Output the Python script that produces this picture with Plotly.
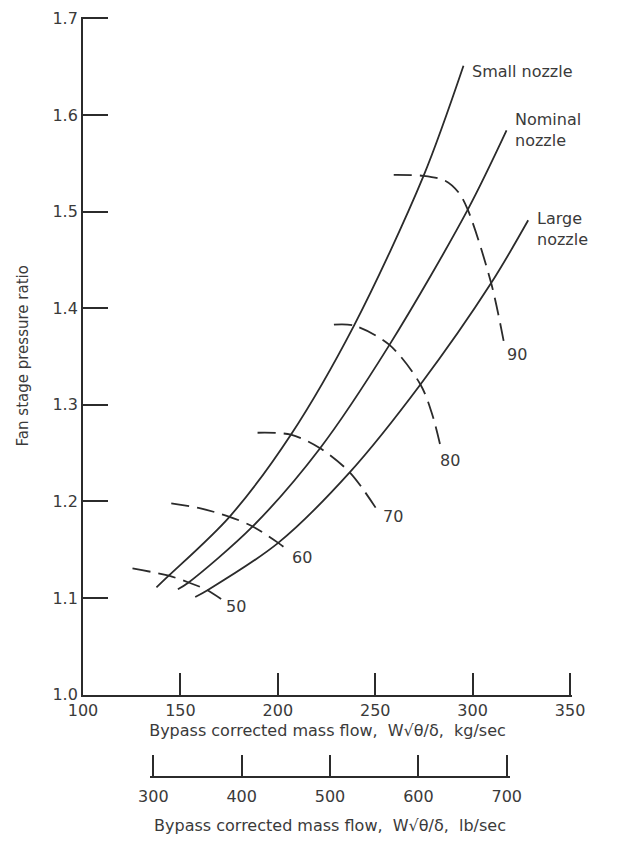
import plotly.graph_objects as go

# ---- data ----
small_x = [137.7, 144.0, 175.2, 206.7, 239.1, 274.8, 295.3]
small_y = [1.111, 1.123, 1.184, 1.269, 1.382, 1.537, 1.651]

nominal_x = [148.7, 154.2, 187.1, 221.7, 257.3, 297.5, 317.4]
nominal_y = [1.109, 1.116, 1.174, 1.255, 1.362, 1.502, 1.584]

large_x = [157.6, 163.9, 200.2, 236.9, 273.2, 309.5, 328.5]
large_y = [1.101, 1.108, 1.157, 1.230, 1.321, 1.426, 1.491]

speed50_x = [125.4, 144.0, 154.2, 163.9, 170.9]
speed50_y = [1.1305, 1.123, 1.116, 1.108, 1.0988]

speed60_x = [145.3, 159.8, 175.2, 187.1, 200.2, 205.5]
speed60_y = [1.198, 1.193, 1.184, 1.174, 1.157, 1.149]

speed70_x = [189.6, 206.7, 221.7, 236.9, 251.0]
speed70_y = [1.271, 1.269, 1.255, 1.230, 1.191]

speed80_x = [228.8, 239.1, 257.3, 273.2, 279.1, 283.4]
speed80_y = [1.383, 1.382, 1.362, 1.321, 1.291, 1.258]

speed90_x = [259.5, 274.8, 285.9, 292.7, 297.5, 309.5, 316.5]
speed90_y = [1.538, 1.537, 1.532, 1.520, 1.502, 1.426, 1.360]

speed_labels = ["50", "60", "70", "80", "90"]
kg_ticks = [100, 150, 200, 250, 300, 350]
lb_ticks = [300, 400, 500, 600, 700]
y_ticks = [1.0, 1.1, 1.2, 1.3, 1.4, 1.5, 1.6, 1.7]
KG_PER_LB = 0.45359237

# ---- styling ----
FONT = "DejaVu Sans"
INK = "#2b2b2b"
TXT = "#3a3a3a"
W = 632
H = 843
ml, mr, mt, mb = 83, 60, 17, 66
plot_h = H - mt - mb
y_dom0 = (777 - 694.5) / plot_h

KG_LO, KG_HI = 100, 351
Y_LO, Y_HI = 1.0, 1.7015
LB_LO, LB_HI = 296.5, 703.5


def kg_frac(v):
    return (v - KG_LO) / (KG_HI - KG_LO)


fig = go.Figure()

nozzle_line = dict(color=INK, width=1.8, shape="spline", smoothing=0.9)
dashed = dict(color=INK, width=1.8, dash="18px,8px", shape="spline", smoothing=0.9)

for xs, ys in [(small_x, small_y), (nominal_x, nominal_y), (large_x, large_y)]:
    fig.add_trace(go.Scatter(x=xs, y=ys, mode="lines", line=nozzle_line,
                             showlegend=False, hoverinfo="skip", cliponaxis=False))

for xs, ys in [(speed50_x, speed50_y), (speed60_x, speed60_y), (speed70_x, speed70_y),
               (speed80_x, speed80_y), (speed90_x, speed90_y)]:
    fig.add_trace(go.Scatter(x=xs, y=ys, mode="lines", line=dashed,
                             showlegend=False, hoverinfo="skip", cliponaxis=False))

# invisible trace to instantiate the lb/sec axis
fig.add_trace(go.Scatter(x=[lb_ticks[0]], y=[1.0], xaxis="x2", yaxis="y",
                         mode="markers", marker=dict(opacity=0),
                         showlegend=False, hoverinfo="skip"))

# speed labels
label_pos = [(178.6, 1.0915), (212.5, 1.142), (259.0, 1.184), (288.5, 1.242), (322.6, 1.352)]
for txt, (lx, ly) in zip(speed_labels, label_pos):
    fig.add_annotation(x=lx, y=ly, text=txt, showarrow=False,
                       font=dict(family=FONT, size=16, color=TXT))

# nozzle labels
fig.add_annotation(x=298.7, y=1.645, text="Small nozzle", showarrow=False, xanchor="left",
                   font=dict(family=FONT, size=16, color=TXT))
fig.add_annotation(x=320.9, y=1.584, text="Nominal<br>nozzle", showarrow=False, xanchor="left",
                   align="left", font=dict(family=FONT, size=16, color=TXT))
fig.add_annotation(x=332.0, y=1.482, text="Large<br>nozzle", showarrow=False, xanchor="left",
                   align="left", font=dict(family=FONT, size=16, color=TXT))
fig.add_annotation(x=352.4, y=1.371,
                   text="Corrected<br>fan speed,<br>N/√θ,<br>percent of<br>design speed",
                   showarrow=False, align="center",
                   font=dict(family=FONT, size=16, color=TXT))

axis_common = dict(showline=True, linecolor=INK, linewidth=1.8,
                   showgrid=False, zeroline=False, ticks="inside",
                   tickwidth=1.8, tickcolor=INK,
                   tickfont=dict(family=FONT, size=16, color=TXT),
                   automargin=False)

fig.update_layout(
    width=W, height=H,
    margin=dict(l=ml, r=mr, t=mt, b=mb),
    paper_bgcolor="white", plot_bgcolor="rgba(0,0,0,0)",
    font=dict(family=FONT, size=16, color=TXT),
    xaxis=dict(range=[KG_LO, KG_HI], domain=[0, 1], anchor="y",
               tickvals=kg_ticks, ticktext=[str(v) for v in kg_ticks],
               ticklen=22,
               title=dict(text="Bypass corrected mass flow,  W√θ/δ,  kg/sec",
                          font=dict(family=FONT, size=16, color=TXT), standoff=6),
               **axis_common),
    xaxis2=dict(range=[LB_LO, LB_HI],
                domain=[kg_frac(LB_LO * KG_PER_LB), kg_frac(LB_HI * KG_PER_LB)],
                anchor="free", position=0,
                tickvals=lb_ticks, ticktext=[str(v) for v in lb_ticks],
                ticklen=21, ticklabelstandoff=5,
                title=dict(text="Bypass corrected mass flow,  W√θ/δ,  lb/sec",
                           font=dict(family=FONT, size=16, color=TXT), standoff=14),
                **axis_common),
    yaxis=dict(range=[Y_LO, Y_HI], domain=[y_dom0, 1], anchor="x",
               tickvals=y_ticks, ticktext=[f"{v:.1f}" for v in y_ticks],
               ticklen=25,
               title=dict(text="Fan stage pressure ratio",
                          font=dict(family=FONT, size=15, color=TXT), standoff=20),
               **axis_common),
)

fig.write_html("out.html")
